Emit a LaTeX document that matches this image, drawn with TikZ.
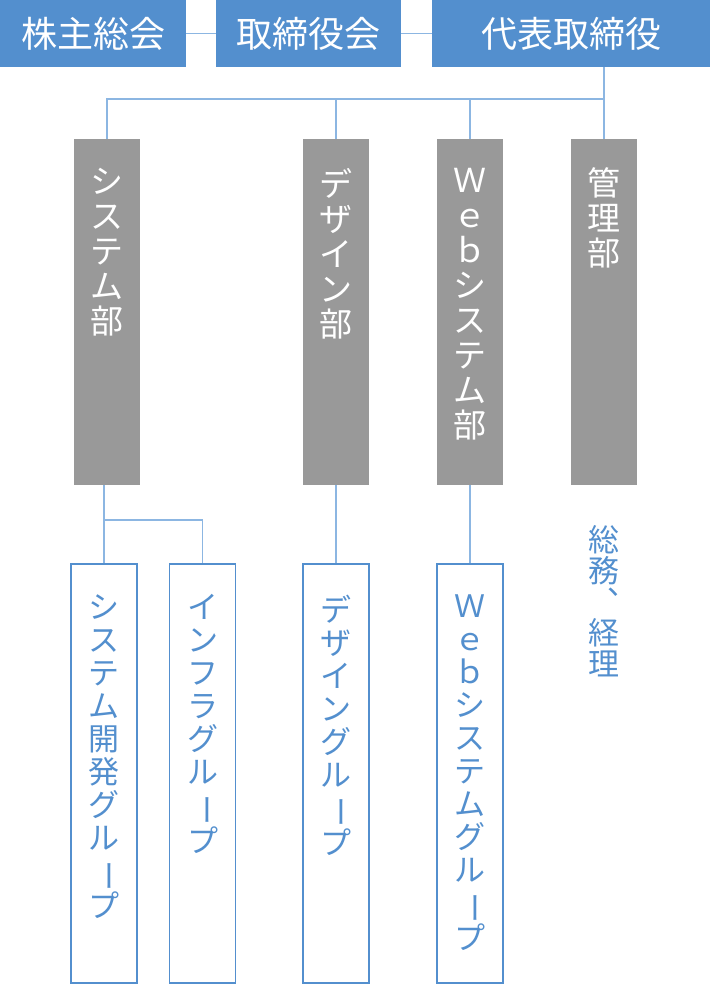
\documentclass[tikz,border=0pt]{standalone}
\usepackage{fontspec}
\setmainfont{Noto Sans CJK JP}
\usepackage{graphicx}
\usetikzlibrary{positioning}
\definecolor{orgblue}{RGB}{83,143,206}
\definecolor{linkblue}{RGB}{140,182,226}
\definecolor{bugray}{RGB}{153,153,153}
\newcommand{\tatebo}{\rotatebox[origin=c]{-90}{ー}}

\begin{document}
\begin{tikzpicture}[x=1pt, y=-1pt,
      topbox/.style={fill=orgblue, text=white, minimum height=67pt, inner sep=0pt,
        font=\fontsize{36}{36}\selectfont},
      bubox/.style={fill=bugray, minimum width=66pt, minimum height=346pt, inner sep=0pt},
      grpbox/.style={draw=orgblue, line width=1.2pt, fill=white, minimum width=66pt,
        minimum height=419pt, inner sep=0pt},
      bulab/.style={text=white, align=center, inner sep=0pt, font=\fontsize{33}{35}\selectfont},
      grplab/.style={text=orgblue, align=center, inner sep=0pt, font=\fontsize{31}{33}\selectfont},
      link/.style={draw=linkblue, line width=1.2pt}
    ]
      \useasboundingbox (0,0) rectangle (710,985);

      % top row
      \node[topbox, minimum width=186pt] (kabu) at (93,33.5) {株主総会};
      \node[topbox, minimum width=185pt] (tori) at (308.5,33.5) {取締役会};
      \node[topbox, minimum width=278pt] (daihyo) at (571,33.5) {代表取締役};

      % departments
      \node[bubox] (sys) at (107,312) {};
      \node[bubox] (design) at (336,312) {};
      \node[bubox] (web) at (470,312) {};
      \node[bubox] (kanri) at (604,312) {};

      \node[bulab, below=29pt of sys.north] (syslab) {シ\\ス\\テ\\ム\\部};
      \node[bulab, below=29pt of design.north] (designlab) {デ\\ザ\\イ\\ン\\部};
      \node[bulab, below=29pt of web.north] (weblab) {Ｗ\\ｅ\\ｂ\\シ\\ス\\テ\\ム\\部};
      \node[bulab, below=29pt of kanri.north] (kanrilab) {管\\理\\部};

      % groups
      \node[grpbox] (sysdev) at (104,773.5) {};
      \node[grpbox] (infra) at (202.5,773.5) {};
      \node[grpbox] (designgrp) at (336,773.5) {};
      \node[grpbox] (webgrp) at (470,773.5) {};

      \node[grplab, below=31pt of sysdev.north] (sysdevlab) {シ\\ス\\テ\\ム\\開\\発\\グ\\ル\\\tatebo\\プ};
      \node[grplab, below=31pt of infra.north] (infralab) {イ\\ン\\フ\\ラ\\グ\\ル\\\tatebo\\プ};
      \node[grplab, below=31pt of designgrp.north] (designgrplab) {デ\\ザ\\イ\\ン\\グ\\ル\\\tatebo\\プ};
      \node[grplab, below=31pt of webgrp.north] (webgrplab) {Ｗ\\ｅ\\ｂ\\シ\\ス\\テ\\ム\\グ\\ル\\\tatebo\\プ};
      \node[grplab, font=\fontsize{31}{31}\selectfont] (soumu) at (604,525) [anchor=north] {総\\務\\︑\\経\\理};

      % connectors
      \coordinate (bus) at (604,99);
      \coordinate (sysfork) at (104,520);
      \draw[link] (kabu) -- (tori);
      \draw[link] (tori) -- (daihyo);
      \draw[link] (daihyo.south -| kanri.north) -- (kanri.north);
      \draw[link] (bus) -| (sys.north);
      \draw[link] (bus) -| (design.north);
      \draw[link] (bus) -| (web.north);
      \draw[link] (sysdev.north |- sys.south) -- (sysdev.north);
      \draw[link] (sysfork) -| (infra.north);
      \draw[link] (design) -- (designgrp);
      \draw[link] (web) -- (webgrp);
    \end{tikzpicture}
\end{document}
